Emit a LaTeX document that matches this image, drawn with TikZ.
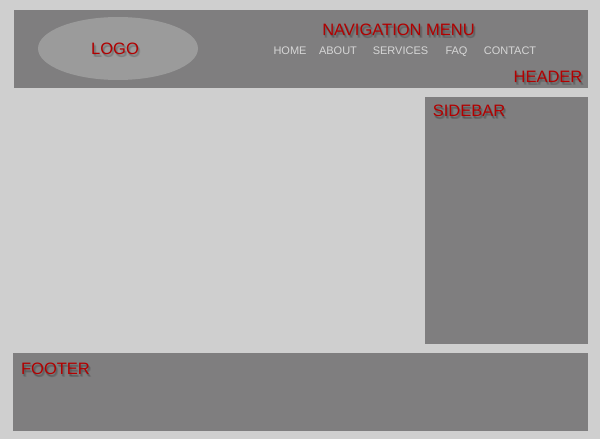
\documentclass[tikz,border=0pt]{standalone}
\usepackage{fontspec}
\setmainfont{Liberation Sans}
\usetikzlibrary{shapes.geometric}

\definecolor{pagebg}{HTML}{CFCFCF}
\definecolor{boxgray}{HTML}{7F7E7F}
\definecolor{logogray}{HTML}{9B9B9B}
\definecolor{navtext}{HTML}{D6D6D6}
\definecolor{tagred}{HTML}{B20000}

\tikzstyle{block}=[fill=boxgray,draw=none,inner sep=0pt]
\tikzstyle{logoshape}=[ellipse,fill=logogray,draw=none,inner sep=0pt]
\tikzstyle{tag}=[text=tagred,font=\fontsize{16.5}{16.5}\selectfont,inner sep=0pt,anchor=base]
\tikzstyle{tagshadow}=[tag,text=black,text opacity=0.09]
\tikzstyle{navlink}=[text=navtext,font=\fontsize{11}{11}\selectfont,inner sep=0pt,anchor=base]

% red label with a soft drop shadow: name, position, text
\newcommand{\redtag}[3]{%
    \foreach \dx/\dy in {0.6/1.2, 1.6/1.8, 1.2/2.8, 2.4/3.0}
        \node[tagshadow,xshift=\dx pt,yshift=-\dy pt] at #2 {#3};
    \node[tag] (#1) at #2 {#3};}

\begin{document}
\begin{tikzpicture}[x=1pt, y=-1pt]
    \useasboundingbox (0,0) rectangle (600,439);
    \fill[pagebg] (0,0) rectangle (600,439);

    % First we draw the page blocks
    \foreach \pos/\name/\w/\h in {{(301,48.75)/header/574/77.5},
        {(506.25,220.25)/sidebar/163.5/246.5}, {(300.5,392)/footer/575/78}}
        \node[block, minimum width=\w pt, minimum height=\h pt] (\name) at \pos {};
    \node[logoshape, minimum width=160pt, minimum height=63pt] (logo) at (118,48.5) {};

    % Then the labels of the blocks
    \redtag{logotag}{(115,54.4)}{LOGO}
    \redtag{navtag}{(398.5,35.6)}{NAVIGATION MENU}
    \redtag{headertag}{(548,82.4)}{HEADER}
    \redtag{sidebartag}{(469,116.9)}{SIDEBAR}
    \redtag{footertag}{(55.5,374.9)}{FOOTER}

    % Menu entries
    \foreach \pos/\name/\text in {{(290,54)/home/HOME}, {(338,54)/about/ABOUT},
        {(400.5,54)/services/SERVICES}, {(456.5,54)/faq/FAQ}, {(510,54)/contact/CONTACT}}
        \node[navlink] (\name) at \pos {\text};
\end{tikzpicture}
\end{document}
